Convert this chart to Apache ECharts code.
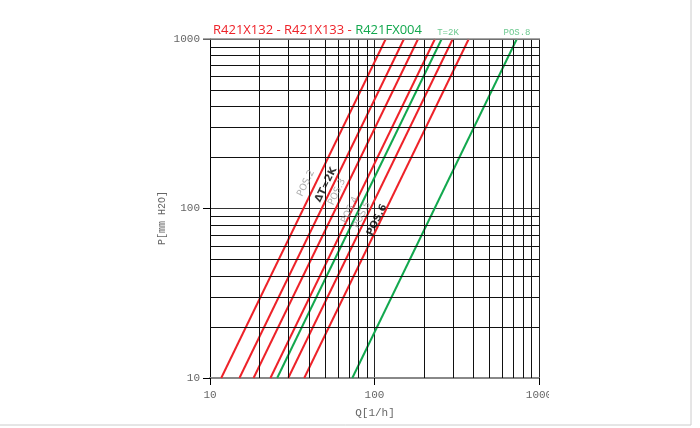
<!DOCTYPE html>
<html><head><meta charset="utf-8">
<script src="https://cdn.jsdelivr.net/npm/echarts@6/dist/echarts.min.js"></script>
<style>html,body{margin:0;padding:0;background:#fff}#c{width:700px;height:428px}</style>
</head><body><div id="c"></div>
<script>
// ---- data ----
const xMinor = [20,30,40,50,60,70,80,90,200,300,400,500,600,700,800,900];
const yMinor = [20,30,40,50,60,70,80,90,200,300,400,500,600,700,800,900];
const xTickLabels = ['10','100','1000'];
const yTickLabels = ['10','100','1000'];
// red curves: Q [l/h] at P=10 and at P=1000 mmH2O
const redQatP10   = [11.7, 15.1, 18.4, 23.3, 29.9, 37.4];
const redQatP1000 = [117, 151, 184, 233, 299, 374];
// green curves
const greenQatP10   = [25.6, 73.3];
const greenQatP1000 = [256, 733];
const pLow = 10, pHigh = 1000;
// in-plot rotated labels
const lineLabels = ['POS.2','ΔT=2K','POS.3','POS.4','POS.5','POS.6'];
const labelQ = [38.3, 50.7, 59.2, 71.0, 84, 103.5];
const labelP = [141, 138, 125, 98, 91.6, 85.5];
const labelBold = [false, true, false, false, false, true];

const RED = '#ee2229', GREEN = '#12a84e';
const chart = echarts.init(document.getElementById('c'), null, {renderer:'canvas'});
const series = [];
series.push({
  type:'line', data:[[10,10]], showSymbol:false, lineStyle:{width:0}, silent:true, z:1,
  markLine:{silent:true, symbol:['none','none'], animation:false, label:{show:false},
    lineStyle:{color:'#111', width:1, type:'solid'},
    data: xMinor.map(v=>({xAxis:v})).concat(yMinor.map(v=>({yAxis:v})))}
});
redQatP10.forEach((q,i)=>{
  series.push({type:'line', data:[[q,pLow],[redQatP1000[i],pHigh]], showSymbol:false,
    lineStyle:{color:RED, width:2}, z:3});
});
greenQatP10.forEach((q,i)=>{
  series.push({type:'line', data:[[q,pLow],[greenQatP1000[i],pHigh]], showSymbol:false,
    lineStyle:{color:GREEN, width:2}, z:3});
});
series.push({
  type:'scatter', symbolSize:0, z:5,
  data: lineLabels.map((t,i)=>({value:[labelQ[i],labelP[i]],
    label:{show:true, formatter:t, position:'inside', rotate:64,
      color: labelBold[i]?'#000':'#999', fontWeight: labelBold[i]?'bold':'normal',
      fontSize: labelBold[i]?10:9.5, fontFamily:'DejaVu Sans'}}))
});
const mono = 'Liberation Mono';
chart.setOption({
  animation:false,
  backgroundColor:'#fff',
  title:{left:208, top:19, text:'{r|R421X132 - R421X133 - }{g|R421FX004}',
    textStyle:{fontWeight:'normal', rich:{
      r:{color:RED, fontSize:13, fontWeight:'normal', fontFamily:'Open Sans'},
      g:{color:GREEN, fontSize:13, fontWeight:'normal', fontFamily:'Open Sans'}}}},
  grid:{left:210, right:161, top:39, bottom:50, containLabel:false},
  xAxis:{type:'log', logBase:10, min:10, max:1000,
    axisLine:{show:true, lineStyle:{color:'#888', width:2}},
    axisTick:{show:true, length:7, lineStyle:{color:'#000'}},
    axisLabel:{margin:12, color:'#666', fontFamily:mono, fontSize:11,
      formatter:(v)=>{const i=[10,100,1000].indexOf(Math.round(v)); return i>=0?xTickLabels[i]:'';}},
    splitLine:{show:true, lineStyle:{color:'#222', width:1}}},
  yAxis:{type:'log', logBase:10, min:10, max:1000,
    axisLine:{show:true, lineStyle:{color:'#000', width:1}},
    axisTick:{show:true, length:7, lineStyle:{color:'#000'}},
    axisLabel:{margin:10, color:'#666', fontFamily:mono, fontSize:11,
      formatter:(v)=>{const i=[10,100,1000].indexOf(Math.round(v)); return i>=0?yTickLabels[i]:'';}},
    splitLine:{show:true, lineStyle:{color:'#333', width:1.2}}},
  graphic:[
    {type:'line', shape:{x1:203, y1:39, x2:540, y2:39}, style:{stroke:'#888', lineWidth:1.5}, z:50},
    {type:'text', x:162, y:218, rotation:Math.PI/2, style:{text:'P[mm H2O]', fill:'#666', font:'10px '+mono, align:'center', verticalAlign:'middle'}},
    {type:'text', x:375, y:413, style:{text:'Q[1/h]', fill:'#666', font:'11px '+mono, align:'center', verticalAlign:'middle'}},
    {type:'text', x:448, y:33, style:{text:'T=2K', fill:'#6cc98f', font:'9px '+mono, align:'center', verticalAlign:'middle'}},
    {type:'text', x:517, y:33, style:{text:'POS.8', fill:'#6cc98f', font:'9px '+mono, align:'center', verticalAlign:'middle'}},
    {type:'rect', shape:{x:549, y:386, width:40, height:22}, style:{fill:'#fff'}, z:100},
    {type:'line', shape:{x1:691, y1:0, x2:691, y2:425}, style:{stroke:'#ccc', lineWidth:1}, z:100},
    {type:'line', shape:{x1:0, y1:425, x2:691, y2:425}, style:{stroke:'#ccc', lineWidth:1}, z:100}
  ],
  series: series
});
</script></body></html>
